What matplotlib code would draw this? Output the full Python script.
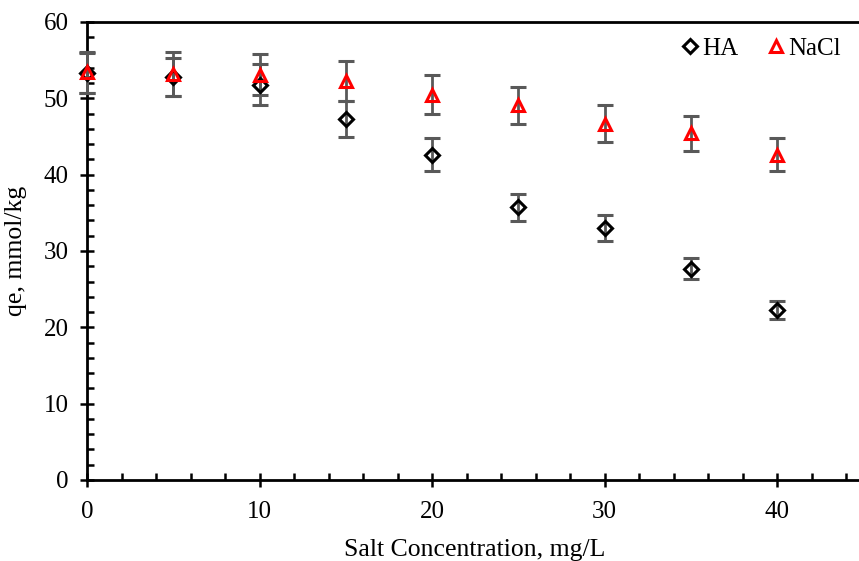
import numpy as np
import matplotlib.pyplot as plt
from matplotlib.ticker import MultipleLocator

plt.rcParams['font.family'] = 'Liberation Serif'

# salt concentration (mg/L)
conc = [0, 5, 10, 15, 20, 25, 30, 35, 40]
# HA series
ha_qe = [53.3, 52.8, 51.8, 47.3, 42.6, 35.7, 33.0, 27.7, 22.3]
ha_err = [2.6, 2.5, 2.65, 2.4, 2.15, 1.8, 1.65, 1.4, 1.15]
# NaCl series
nacl_qe = [53.4, 53.2, 53.1, 52.3, 50.5, 49.1, 46.7, 45.4, 42.6]
nacl_err = [2.7, 2.9, 2.7, 2.6, 2.5, 2.4, 2.4, 2.3, 2.15]

fig = plt.figure(figsize=(8.59, 5.61), dpi=100)
ax = fig.add_axes([0.1013, 0.1444, 0.9037, 0.8164])

for qe, err, mk, ms, col, lab in [(ha_qe, ha_err, 'D', 7, 'black', 'HA'),
                                  (nacl_qe, nacl_err, '^', 9, 'red', 'NaCl')]:
    eb = ax.errorbar(conc, qe, yerr=err, fmt=mk, ms=ms, mfc='none', mec=col, mew=2.2,
                     ecolor='#595959', elinewidth=2, capsize=5.5, capthick=2,
                     label=lab, zorder=3)
    # keep the x=0 point from being cut by the axis
    for art in [eb.lines[0]] + list(eb.lines[1]) + list(eb.lines[2]):
        art.set_clip_on(False)

ax.set_xlim(0, 45)
ax.set_ylim(0, 60)
ax.xaxis.set_major_locator(MultipleLocator(10))
ax.xaxis.set_minor_locator(MultipleLocator(2))
ax.yaxis.set_major_locator(MultipleLocator(10))
ax.yaxis.set_minor_locator(MultipleLocator(2))
ax.tick_params(which='major', direction='inout', length=10, width=1.8, labelsize=18)
ax.tick_params(which='minor', direction='in', length=5, width=1.8)
ax.tick_params(axis='x', pad=10)
ax.tick_params(axis='y', pad=8)

for s in ['left', 'bottom', 'top']:
    ax.spines[s].set_linewidth(2)
ax.spines['right'].set_visible(False)

ax.set_xlabel('Salt Concentration, mg/L', fontsize=18.5, labelpad=12)
ax.set_ylabel('qe, mmol/kg', fontsize=18.5, labelpad=12)

# legend markers only, no error bars
h, l = ax.get_legend_handles_labels()
h = [hh[0] for hh in h]
ax.legend(h, l, loc='upper right', ncol=2, frameon=False, fontsize=18,
          handlelength=0.6, handletextpad=0.2, columnspacing=1.2,
          bbox_to_anchor=(1.0, 1.015))

fig.savefig('out.png', dpi=100)
